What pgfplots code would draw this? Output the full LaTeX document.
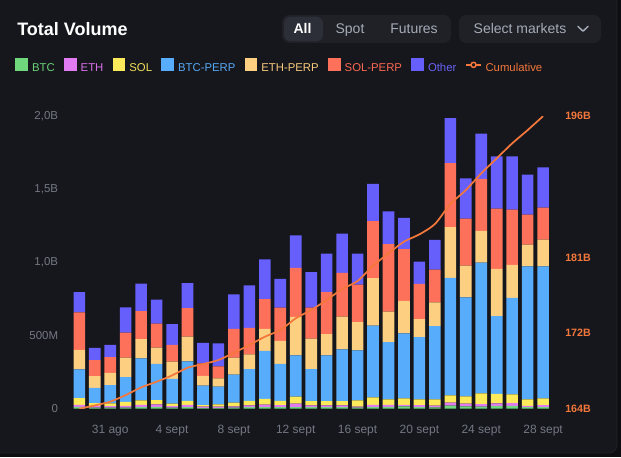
\documentclass[border=0pt]{standalone}
\usepackage{fontspec}
\setmainfont{Liberation Sans}
\usepackage{pgfplots}
\usepackage{pgfplotstable}
\pgfplotsset{compat=1.18}

\definecolor{pagebg}{HTML}{0D0E11}
\definecolor{cardbg}{HTML}{16171C}
\definecolor{cardline}{HTML}{23252B}
\definecolor{tabbg}{HTML}{1F2127}
\definecolor{pillbg}{HTML}{2C2F37}
\definecolor{uigray}{HTML}{A5ABB7}
\definecolor{axgray}{HTML}{737884}
\definecolor{cbtc}{HTML}{6FD87C}
\definecolor{ceth}{HTML}{E07BF2}
\definecolor{csol}{HTML}{FDEA5A}
\definecolor{cbp}{HTML}{57ADFC}
\definecolor{cep}{HTML}{FDCF80}
\definecolor{csp}{HTML}{FD7059}
\definecolor{coth}{HTML}{675FFC}
\definecolor{cumc}{HTML}{F4773B}
\definecolor{tbtc}{HTML}{6AD277}
\definecolor{teth}{HTML}{DA6FEA}
\definecolor{tsol}{HTML}{F3E15A}
\definecolor{tbp}{HTML}{56A8F4}
\definecolor{tep}{HTML}{F8C97D}
\definecolor{tsp}{HTML}{FA6852}
\definecolor{toth}{HTML}{6961F6}

% daily volume by market (billions) and running cumulative total (billions)
\pgfplotstableread{
x   btc   eth   sol   bp    ep    sp    oth   cum
0   0.012 0.015 0.045 0.196 0.134 0.257 0.137 164.00
1   0.008 0.012 0.018 0.105 0.080 0.109 0.084 164.36
2   0.008 0.010 0.018 0.125 0.084 0.107 0.084 164.77
3   0.007 0.012 0.028 0.168 0.134 0.171 0.173 165.49
4   0.011 0.016 0.030 0.287 0.132 0.191 0.187 166.33
5   0.013 0.016 0.030 0.248 0.111 0.164 0.164 166.95
6   0.008 0.010 0.017 0.168 0.118 0.116 0.141 167.64
7   0.011 0.016 0.026 0.271 0.168 0.196 0.171 168.48
8   0.006 0.008 0.011 0.132 0.068 0.084 0.141 168.88
9   0.006 0.008 0.016 0.121 0.057 0.082 0.157 169.32
10  0.007 0.009 0.026 0.191 0.116 0.196 0.237 170.12
11  0.010 0.013 0.030 0.218 0.100 0.182 0.289 170.96
12  0.011 0.017 0.040 0.328 0.150 0.202 0.273 171.87
13  0.010 0.015 0.028 0.253 0.157 0.228 0.196 172.60
14  0.011 0.023 0.048 0.282 0.264 0.334 0.223 173.88
15  0.010 0.012 0.030 0.218 0.209 0.212 0.243 174.79
16  0.010 0.012 0.030 0.312 0.146 0.287 0.262 175.88
17  0.010 0.012 0.030 0.353 0.225 0.298 0.268 177.08
18  0.007 0.007 0.043 0.341 0.193 0.257 0.212 177.96
19  0.011 0.016 0.050 0.491 0.325 0.389 0.255 179.63
20  0.012 0.014 0.038 0.391 0.209 0.460 0.225 180.98
21  0.016 0.011 0.043 0.444 0.223 0.353 0.214 182.26
22  0.011 0.014 0.039 0.425 0.123 0.241 0.152 183.06
23  0.009 0.012 0.043 0.500 0.162 0.225 0.202 184.19
24  0.021 0.020 0.050 0.803 0.346 0.439 0.307 186.37
25  0.016 0.018 0.050 0.676 0.218 0.321 0.275 187.90
26  0.015 0.016 0.074 0.894 0.216 0.355 0.309 189.73
27  0.019 0.018 0.065 0.530 0.323 0.412 0.357 191.37
28  0.020 0.018 0.060 0.660 0.225 0.378 0.364 193.01
29  0.011 0.009 0.044 0.908 0.150 0.205 0.273 194.46
30  0.011 0.013 0.047 0.901 0.184 0.218 0.275 195.99
}\vol

\pgfplotsset{
  sqleg/.style={legend image code/.code={\fill[##1] (0pt,-1.9pt) rectangle (9.6pt,7.7pt);}},
  cumleg/.style={legend image code/.code={%
      \draw[cumc, line width=1.3pt] (0pt,2.9pt) -- (10.7pt,2.9pt);
      \draw[cumc, line width=1.1pt, fill=cardbg] (5.35pt,2.9pt) circle (1.9pt);}},
  base/.style={
    at={(49.05pt,36.225pt)}, anchor=south west,
    scale only axis, width=368.7pt, height=219.5pt,
    xmin=-0.9, xmax=30.9,
    axis line style={draw=none},
    major tick style={draw=none},
    minor tick num=0,
  },
}

\begin{document}
\begin{tikzpicture}[x=0.75pt, y=0.75pt]
\path[use as bounding box] (0,0) rectangle (621,457);
\begin{scope}
  \clip (0,0) rectangle (621,457);
  \fill[pagebg] (0,0) rectangle (621,457);
  \draw[cardline, fill=cardbg, rounded corners=6pt] (-20,4) rectangle (617,480);
\end{scope}

% header
\node[anchor=base west, inner sep=0pt, text=white,
      font=\fontsize{13.5}{15}\selectfont\bfseries] at (17,421.7) {Total Volume};
\fill[tabbg, rounded corners=5.5pt] (282,442) rectangle (451,414);
\fill[pillbg, rounded corners=5pt] (284,440.3) rectangle (323,415.7);
\node[anchor=base, inner sep=0pt, text=white, font=\fontsize{10.5}{12}\selectfont\bfseries] at (302.5,423) {All};
\node[anchor=base, inner sep=0pt, text=uigray, font=\fontsize{10.5}{12}\selectfont] at (350,423) {Spot};
\node[anchor=base, inner sep=0pt, text=uigray, font=\fontsize{10.5}{12}\selectfont] at (414,423) {Futures};
\fill[tabbg, rounded corners=5.5pt] (459,442) rectangle (601,414);
\node[anchor=base, inner sep=0pt, text=uigray, font=\fontsize{10.5}{12}\selectfont] at (520,423) {Select markets};
\draw[uigray, line width=1.1pt, line cap=round, line join=round] (578,430.6) -- (583,425.8) -- (588,430.6);

% stacked daily volume
\begin{axis}[base,
  ybar stacked, bar width=8.7pt,
  ymin=0, ymax=2,
  xtick={2,6,10,14,18,22,26,30},
  xticklabels={31 ago,4 sept,8 sept,12 sept,16 sept,20 sept,24 sept,28 sept},
  xticklabel style={font=\fontsize{9}{10}\selectfont, text=axgray, inner sep=0pt,
                    anchor=north, text height=6.5pt, text depth=2pt, yshift=-12.2pt},
  ytick={0,0.5,1,1.5,2},
  yticklabels={0,500M,{1,0B},{1,5B},{2,0B}},
  yticklabel style={font=\fontsize{8.6}{10}\selectfont, text=axgray, inner sep=0pt, xshift=-5.3pt},
  legend columns=-1,
  legend style={at={(-0.1025,1.1705)}, anchor=west, draw=none, fill=none, inner sep=0pt,
    font=\fontsize{8.5}{10}\selectfont,
    nodes={inner sep=0pt},
    /tikz/every odd column/.append style={column sep=3pt},
    /tikz/every even column/.append style={column sep=6.9pt}},
]
\addplot[fill=cbtc, draw=none, sqleg] table[x=x, y=btc] {\vol};
\addlegendentry{\textcolor{tbtc}{BTC}}
\addplot[fill=ceth, draw=none, sqleg] table[x=x, y=eth] {\vol};
\addlegendentry{\textcolor{teth}{ETH}}
\addplot[fill=csol, draw=none, sqleg] table[x=x, y=sol] {\vol};
\addlegendentry{\textcolor{tsol}{SOL}}
\addplot[fill=cbp, draw=none, sqleg] table[x=x, y=bp] {\vol};
\addlegendentry{\textcolor{tbp}{BTC-PERP}}
\addplot[fill=cep, draw=none, sqleg] table[x=x, y=ep] {\vol};
\addlegendentry{\textcolor{tep}{ETH-PERP}}
\addplot[fill=csp, draw=none, sqleg] table[x=x, y=sp] {\vol};
\addlegendentry{\textcolor{tsp}{SOL-PERP}}
\addplot[fill=coth, draw=none, sqleg] table[x=x, y=oth] {\vol};
\addlegendentry{\textcolor{toth}{Other}}
\addlegendimage{cumleg}
\addlegendentry{\textcolor{cumc}{Cumulative}}
\end{axis}

% cumulative total on the right-hand scale
\begin{axis}[base,
  ymin=164, ymax=196,
  xtick=\empty,
  ytick={164,172.35,180.5,196},
  yticklabels={164B,172B,181B,196B},
  yticklabel pos=right,
  yticklabel style={font=\fontsize{8}{10}\selectfont\bfseries, text=cumc, inner sep=0pt,
                    anchor=west, xshift=6pt},
]
\addplot[cumc, line width=1.3pt, smooth, tension=0.45] table[x=x, y=cum] {\vol};
\end{axis}
\end{tikzpicture}
\end{document}
